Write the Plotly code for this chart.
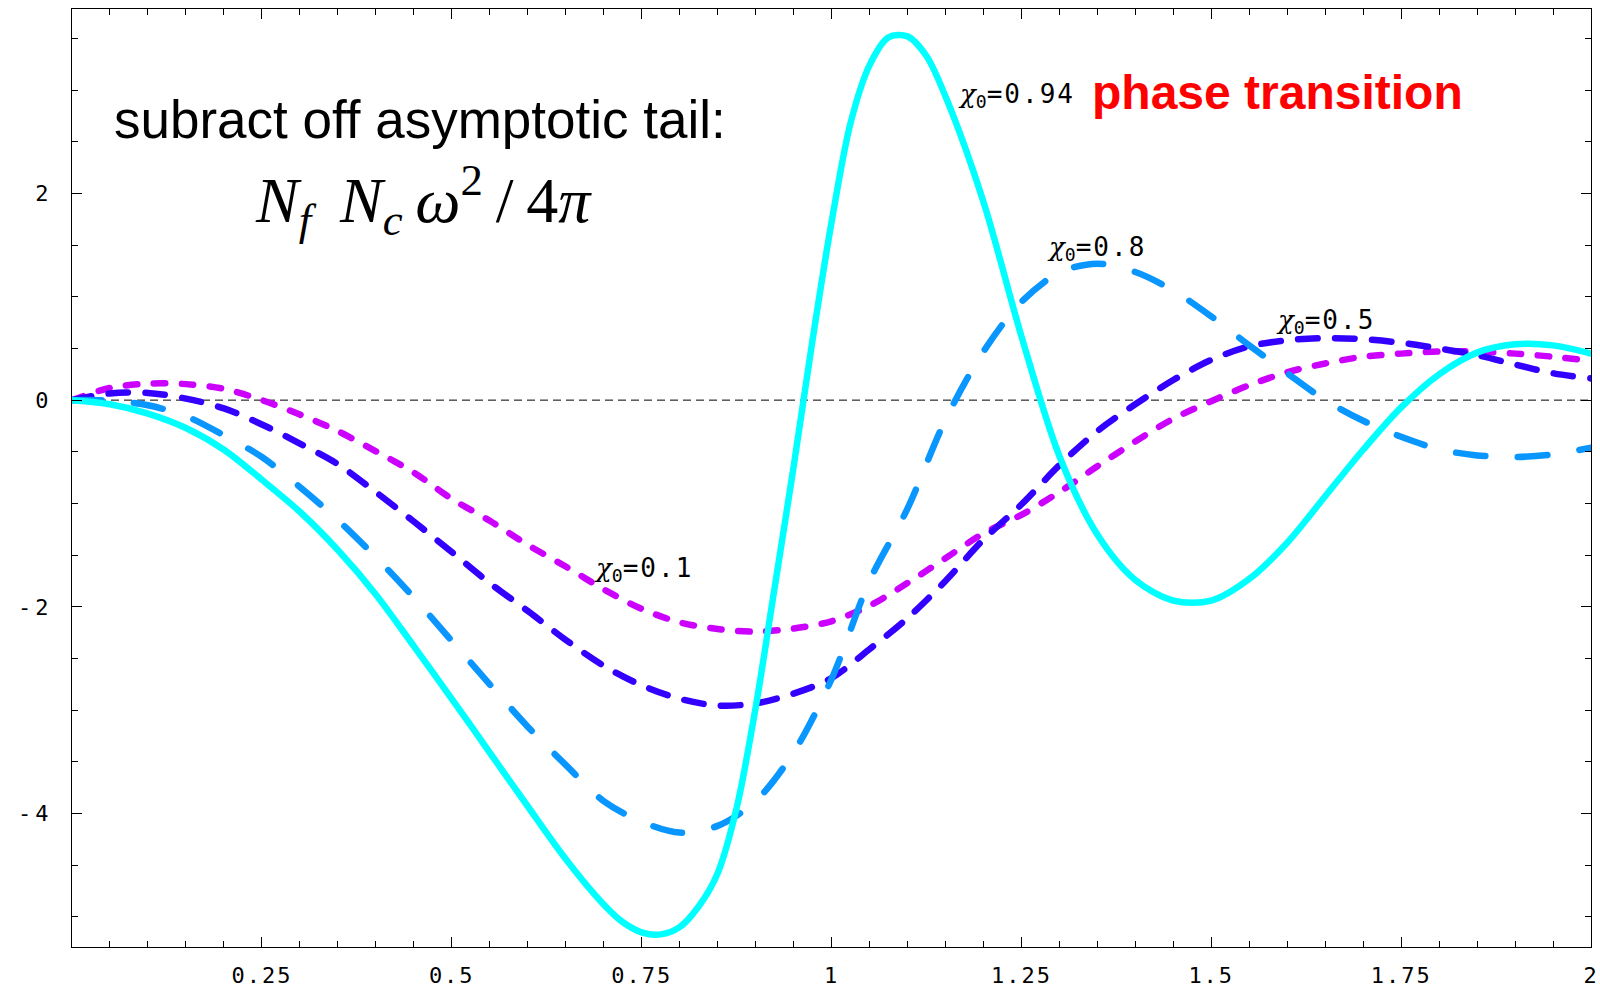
import plotly.graph_objects as go

# frequency grid shared by the three dashed curves
omega = [0.0, 0.05, 0.1, 0.15, 0.2, 0.25, 0.3, 0.35, 0.4, 0.45,
         0.5, 0.55, 0.6, 0.65, 0.7, 0.75, 0.8, 0.85, 0.9, 0.95,
         1.0, 1.05, 1.1, 1.15, 1.2, 1.25, 1.3, 1.35, 1.4, 1.45,
         1.5, 1.55, 1.6, 1.65, 1.7, 1.75, 1.8, 1.85, 1.9, 1.95, 2.0]

# chi0 = 0.1
chi_01 = [0.0, 0.118, 0.16, 0.155, 0.11, 0.0, -0.14, -0.30, -0.495, -0.70,
          -0.955, -1.167, -1.40, -1.61, -1.83, -2.02, -2.15, -2.215, -2.24, -2.21,
          -2.14, -1.99, -1.77, -1.53, -1.29, -1.11, -0.89, -0.64, -0.40, -0.18,
          -0.01, 0.145, 0.27, 0.355, 0.42, 0.45, 0.47, 0.47, 0.45, 0.42, 0.38]

# chi0 = 0.5
chi_05 = [0.0, 0.065, 0.07, 0.015, -0.08, -0.235, -0.42, -0.62, -0.89, -1.175,
          -1.47, -1.77, -2.04, -2.32, -2.57, -2.76, -2.89, -2.955, -2.935, -2.84,
          -2.69, -2.41, -2.11, -1.75, -1.35, -1.01, -0.63, -0.30, -0.04, 0.195,
          0.39, 0.52, 0.58, 0.60, 0.59, 0.555, 0.50, 0.435, 0.345, 0.26, 0.21]

# chi0 = 0.8
chi_08 = [0.0, -0.005, -0.05, -0.155, -0.34, -0.55, -0.84, -1.16, -1.52, -1.91,
          -2.33, -2.75, -3.16, -3.53, -3.88, -4.08, -4.185, -4.12, -3.88, -3.41,
          -2.70, -1.75, -1.05, -0.19, 0.47, 0.95, 1.235, 1.32, 1.24, 1.06,
          0.81, 0.53, 0.26, 0.0, -0.20, -0.355, -0.475, -0.535, -0.55, -0.525, -0.46]

# chi0 = 0.94 (finer sampling around the sharp swing)
omega_094 = [0.0, 0.05, 0.1, 0.15, 0.2, 0.25, 0.3, 0.35, 0.4, 0.45,
             0.5, 0.55, 0.6, 0.65, 0.7, 0.725, 0.75, 0.775, 0.8, 0.825, 0.85, 0.875,
             0.9, 0.925, 0.95, 0.975, 1.0, 1.025, 1.05, 1.075, 1.1, 1.125, 1.15,
             1.2, 1.25, 1.3, 1.35, 1.4, 1.45, 1.5, 1.55, 1.6, 1.65, 1.7, 1.75,
             1.8, 1.85, 1.9, 1.95, 2.0]
chi_094 = [0.0, -0.04, -0.13, -0.27, -0.48, -0.77, -1.08, -1.45, -1.88, -2.38,
           -2.89, -3.41, -3.93, -4.44, -4.88, -5.05, -5.15, -5.17, -5.10, -4.90, -4.58, -3.95,
           -2.98, -1.82, -0.65, 0.58, 1.72, 2.68, 3.24, 3.51, 3.52, 3.33, 2.94,
           1.92, 0.62, -0.54, -1.30, -1.74, -1.94, -1.94, -1.73, -1.38, -0.93, -0.48, -0.07,
           0.25, 0.46, 0.54, 0.53, 0.45]

x_tick_vals = [0.25, 0.5, 0.75, 1.0, 1.25, 1.5, 1.75, 2.0]
x_tick_text = ["0.25", "0.5", "0.75", "1", "1.25", "1.5", "1.75", "2"]
y_tick_vals = [-4, -2, 0, 2]
y_tick_text = ["-4", "-2", "0", "2"]

series = [
    (omega, chi_01, "#CC00FF", "11.5px,16.5px"),
    (omega, chi_05, "#3300FF", "19.5px,17.5px"),
    (omega, chi_08, "#0A96FF", "29.5px,32.5px"),
    (omega_094, chi_094, "#00FFFF", "solid"),
]

fig = go.Figure()
for xs, ys, color, dash in series:
    fig.add_trace(go.Scatter(
        x=xs, y=ys, mode="lines",
        line=dict(color=color, width=6.5, dash=dash, shape="spline", smoothing=0.9),
        showlegend=False, hoverinfo="skip",
    ))

# dashed zero reference line
fig.add_shape(type="line", xref="x domain", yref="y", x0=0, x1=1, y0=0, y1=0,
              line=dict(color="black", width=1, dash="8px,5px"), layer="below")


def spaced(txt, gap=2):
    return f"<span style=\"letter-spacing:{gap}px\">{txt}</span>"


tick_font = dict(family="DejaVu Sans Mono", size=22, color="black")
common_axis = dict(showline=True, linecolor="black", linewidth=1, mirror="ticks",
                   ticks="inside", ticklen=10, tickwidth=1, tickcolor="black",
                   showgrid=False, zeroline=False, tickfont=tick_font,
                   automargin=False)

fig.update_xaxes(range=[0, 2], tickmode="array", tickvals=x_tick_vals,
                 ticktext=[spaced(t) for t in x_tick_text],
                 minor=dict(tick0=0, dtick=0.05, ticks="inside", ticklen=6,
                            tickcolor="black", tickwidth=1, showgrid=False),
                 ticklabelstandoff=9, **common_axis)
fig.update_yaxes(range=[-5.292, 3.785], tickmode="array", tickvals=y_tick_vals,
                 ticktext=[spaced(t, 4) for t in y_tick_text],
                 minor=dict(tick0=0, dtick=0.5, ticks="inside", ticklen=6,
                            tickcolor="black", tickwidth=1, showgrid=False),
                 ticklabelstandoff=14, **common_axis)

label_style = "font-family:'DejaVu Serif';font-style:italic"


def chi_label(value):
    return (f"<span style=\"{label_style}\">χ</span><sub>0</sub>"
            f"<span style=\"letter-spacing:2px\">={value}</span>")


label_font = dict(family="DejaVu Sans Mono", size=26, color="black")
labels = [
    (1.1653, 2.95, "0.94"),
    (1.2824, 1.47, "0.8"),
    (1.584, 0.765, "0.5"),
    (0.686, -1.636, "0.1"),
]
for lx, ly, val in labels:
    fig.add_annotation(x=lx, y=ly, xref="x", yref="y", text=chi_label(val),
                       showarrow=False, xanchor="left", yanchor="middle",
                       font=label_font, borderpad=0)

fig.add_annotation(x=0.054, y=2.714, xref="x", yref="y",
                   text="subract off asymptotic tail:", showarrow=False,
                   xanchor="left", yanchor="middle", borderpad=0,
                   font=dict(family="Liberation Sans", size=53, color="black"))
fig.add_annotation(x=0.24, y=1.94, xref="x", yref="y",
                   text="<i>N</i><sub><i>f</i></sub>\u2009 <i>N</i><sub><i>c</i></sub>\u2009"
                        "<i>ω</i><sup>2</sup>\u2009/\u20094<i>π</i>",
                   showarrow=False, xanchor="left", yanchor="middle", borderpad=0,
                   font=dict(family="Liberation Serif", size=64, color="black"))
fig.add_annotation(x=1.3417, y=2.979, xref="x", yref="y",
                   text="<b>phase transition</b>", showarrow=False,
                   xanchor="left", yanchor="middle", borderpad=0,
                   font=dict(family="Liberation Sans", size=48, color="#FF0000"))

fig.update_layout(width=1600, height=992,
                  margin=dict(l=72, r=9, t=9, b=45),
                  plot_bgcolor="white", paper_bgcolor="white")

round_caps = ("var s=document.createElement('style');"
              "s.textContent='.js-line{stroke-linecap:round;stroke-linejoin:round}';"
              "document.head.appendChild(s);")
fig.write_html("out.html", post_script=round_caps)
